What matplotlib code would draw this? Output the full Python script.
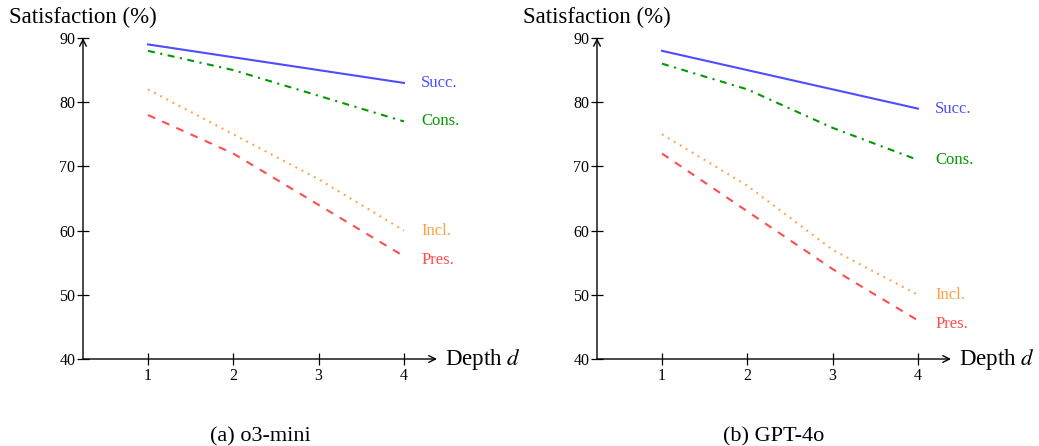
import matplotlib
matplotlib.use("Agg")
import matplotlib.pyplot as plt

plt.rcParams["font.family"] = ["Liberation Serif", "DejaVu Serif"]
plt.rcParams["mathtext.fontset"] = "stix"
plt.rcParams["lines.scale_dashes"] = False

depth = [1, 2, 3, 4]
models = ["(a) o3-mini", "(b) GPT-4o"]

# satisfaction (%) per depth, one list per constraint kind and model
succ_o3 = [89, 87, 85, 83]
cons_o3 = [88, 85, 81, 77]
incl_o3 = [82, 75, 68, 60]
pres_o3 = [78, 72, 64, 56]

succ_4o = [88, 85, 82, 79]
cons_4o = [86, 82, 76, 71]
incl_4o = [75, 67, 57, 50]
pres_4o = [72, 63, 54, 46]

series_names = ["Succ.", "Cons.", "Incl.", "Pres."]
colors = {"Succ.": "#4d4dff", "Cons.": "#009900", "Incl.": "#ff9f40", "Pres.": "#ff4d4d"}
styles = {"Succ.": "-", "Cons.": (0, (5, 4, 1.5, 4)),
          "Incl.": (0, (1.3, 3.7)), "Pres.": (0, (5.6, 5.6))}
label_dy = {"Succ.": 0, "Cons.": 0, "Incl.": 0, "Pres.": -0.6}

W, H = 1039, 446
fig = plt.figure(figsize=(W / 100, H / 100), dpi=100)

panels = [
    (83, [succ_o3, cons_o3, incl_o3, pres_o3]),
    (597, [succ_4o, cons_4o, incl_4o, pres_4o]),
]

for (x0, data), title in zip(panels, models):
    ax = fig.add_axes([x0 / W, (H - 359) / H, (437 - 83) / W, (359 - 38) / H])
    ax.set_xlim(0.238, 4.387)
    ax.set_ylim(40, 90)
    for s in ax.spines.values():
        s.set_visible(False)
    ax.set_facecolor("none")

    # axis lines with arrow heads
    ax.annotate("", xy=(1.0, 0), xytext=(0, 0), xycoords="axes fraction",
                arrowprops=dict(arrowstyle="->", lw=1.0, color="black",
                                shrinkA=0, shrinkB=0, mutation_scale=12))
    ax.annotate("", xy=(0, 1.0), xytext=(0, 0), xycoords="axes fraction",
                arrowprops=dict(arrowstyle="->", lw=1.0, color="black",
                                shrinkA=0, shrinkB=0, mutation_scale=12))

    ax.set_xticks(depth)
    ax.set_yticks([40, 50, 60, 70, 80, 90])
    ax.tick_params(direction="inout", length=9, width=0.9, labelsize=11.5, pad=1)
    ax.tick_params(axis="x", pad=2)

    for name, vals in zip(series_names, data):
        ax.plot(depth, vals, color=colors[name], linestyle=styles[name], lw=1.5)
        ax.text(4.2, vals[-1] + label_dy[name], name, color=colors[name],
                fontsize=12, ha="left", va="center")

    ax.annotate("Satisfaction (%)", xy=(0, 1.0), xycoords="axes fraction",
                xytext=(0, 11), textcoords="offset points", fontsize=16.5,
                ha="center", va="baseline")
    ax.annotate(r"Depth $d$", xy=(1.0, 0), xycoords="axes fraction",
                xytext=(6, 0), textcoords="offset points", fontsize=16.5,
                ha="left", va="center")
    ax.annotate(title, xy=(0.5, 0), xycoords="axes fraction",
                xytext=(0, -56), textcoords="offset points", fontsize=16,
                ha="center", va="center")

fig.savefig("out.png", dpi=100)
